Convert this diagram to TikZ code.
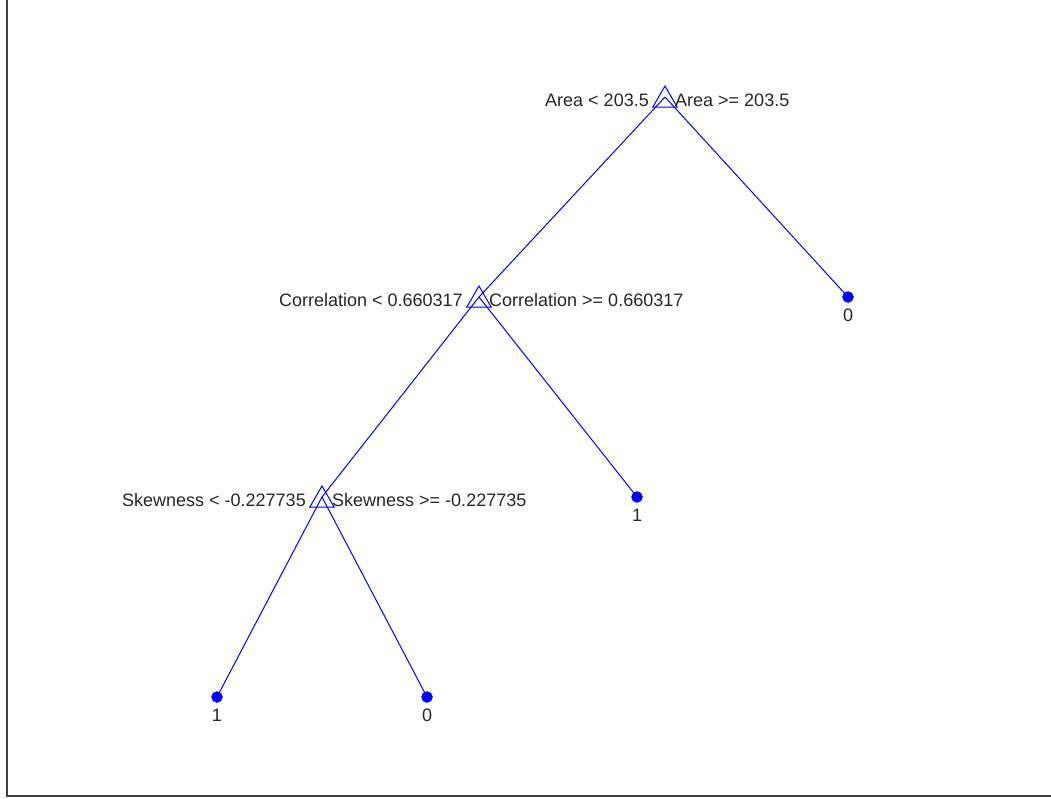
\documentclass[tikz,border=0pt]{standalone}
\usepackage{fontspec}
\setmainfont{Liberation Sans}
\usetikzlibrary{shapes.geometric}
\definecolor{mblue}{RGB}{0,0,255}
\definecolor{txt}{RGB}{38,38,38}
\tikzset{
  edge/.style={mblue, line width=1pt},
  tri/.style={regular polygon, regular polygon sides=3, draw=mblue, line width=1pt,
     minimum size=28pt, inner sep=0pt, yshift=-3pt},
  leaf/.style={circle, fill=mblue, draw=mblue, minimum size=11pt, inner sep=0pt},
  lab/.style={font=\fontsize{18}{20}\selectfont, text=txt, inner sep=0pt},
  frame/.style={draw=black!75, line width=1.5pt}
}
\begin{document}
\begin{tikzpicture}[x=1pt, y=-1pt]
\useasboundingbox (0,0) rectangle (1051,798);
% frame (left and bottom only)
\coordinate (ftop) at (7,0);
\coordinate (fcorner) at (7,796);
\coordinate (fright) at (1051,796);
\draw[frame] (ftop) -- (fcorner) -- (fright);
% tree points
\coordinate (root) at (665,97);
\coordinate (corr) at (479,297);
\coordinate (skew) at (322,497);
\coordinate (l0a) at (848,297);
\coordinate (l1a) at (637,497);
\coordinate (l1b) at (217,697);
\coordinate (l0b) at (427,697);
% edges
\draw[edge] (root) -- (corr);
\draw[edge] (root) -- (l0a);
\draw[edge] (corr) -- (skew);
\draw[edge] (corr) -- (l1a);
\draw[edge] (skew) -- (l1b);
\draw[edge] (skew) -- (l0b);
% split markers
\node[tri] (troot) at (root) {};
\node[tri] (tcorr) at (corr) {};
\node[tri] (tskew) at (skew) {};
% leaves
\node[leaf] (dl0a) at (l0a) {};
\node[leaf] (dl1a) at (l1a) {};
\node[leaf] (dl1b) at (l1b) {};
\node[leaf] (dl0b) at (l0b) {};
% split labels
\node[lab, anchor=east] (rootL) at ([xshift=-16pt,yshift=-3pt]root) {Area < 203.5};
\node[lab, anchor=west] (rootR) at ([xshift=10pt,yshift=-3pt]root) {Area >= 203.5};
\node[lab, anchor=east] (corrL) at ([xshift=-16pt,yshift=-3pt]corr) {Correlation < 0.660317};
\node[lab, anchor=west] (corrR) at ([xshift=10pt,yshift=-3pt]corr) {Correlation >= 0.660317};
\node[lab, anchor=east] (skewL) at ([xshift=-16pt,yshift=-3pt]skew) {Skewness < -0.227735};
\node[lab, anchor=west] (skewR) at ([xshift=10pt,yshift=-3pt]skew) {Skewness >= -0.227735};
% leaf labels
\node[lab] (tl0a) at ([yshift=-18pt]l0a) {0};
\node[lab] (tl1a) at ([yshift=-18pt]l1a) {1};
\node[lab] (tl1b) at ([yshift=-18pt]l1b) {1};
\node[lab] (tl0b) at ([yshift=-18pt]l0b) {0};
\end{tikzpicture}
\end{document}
